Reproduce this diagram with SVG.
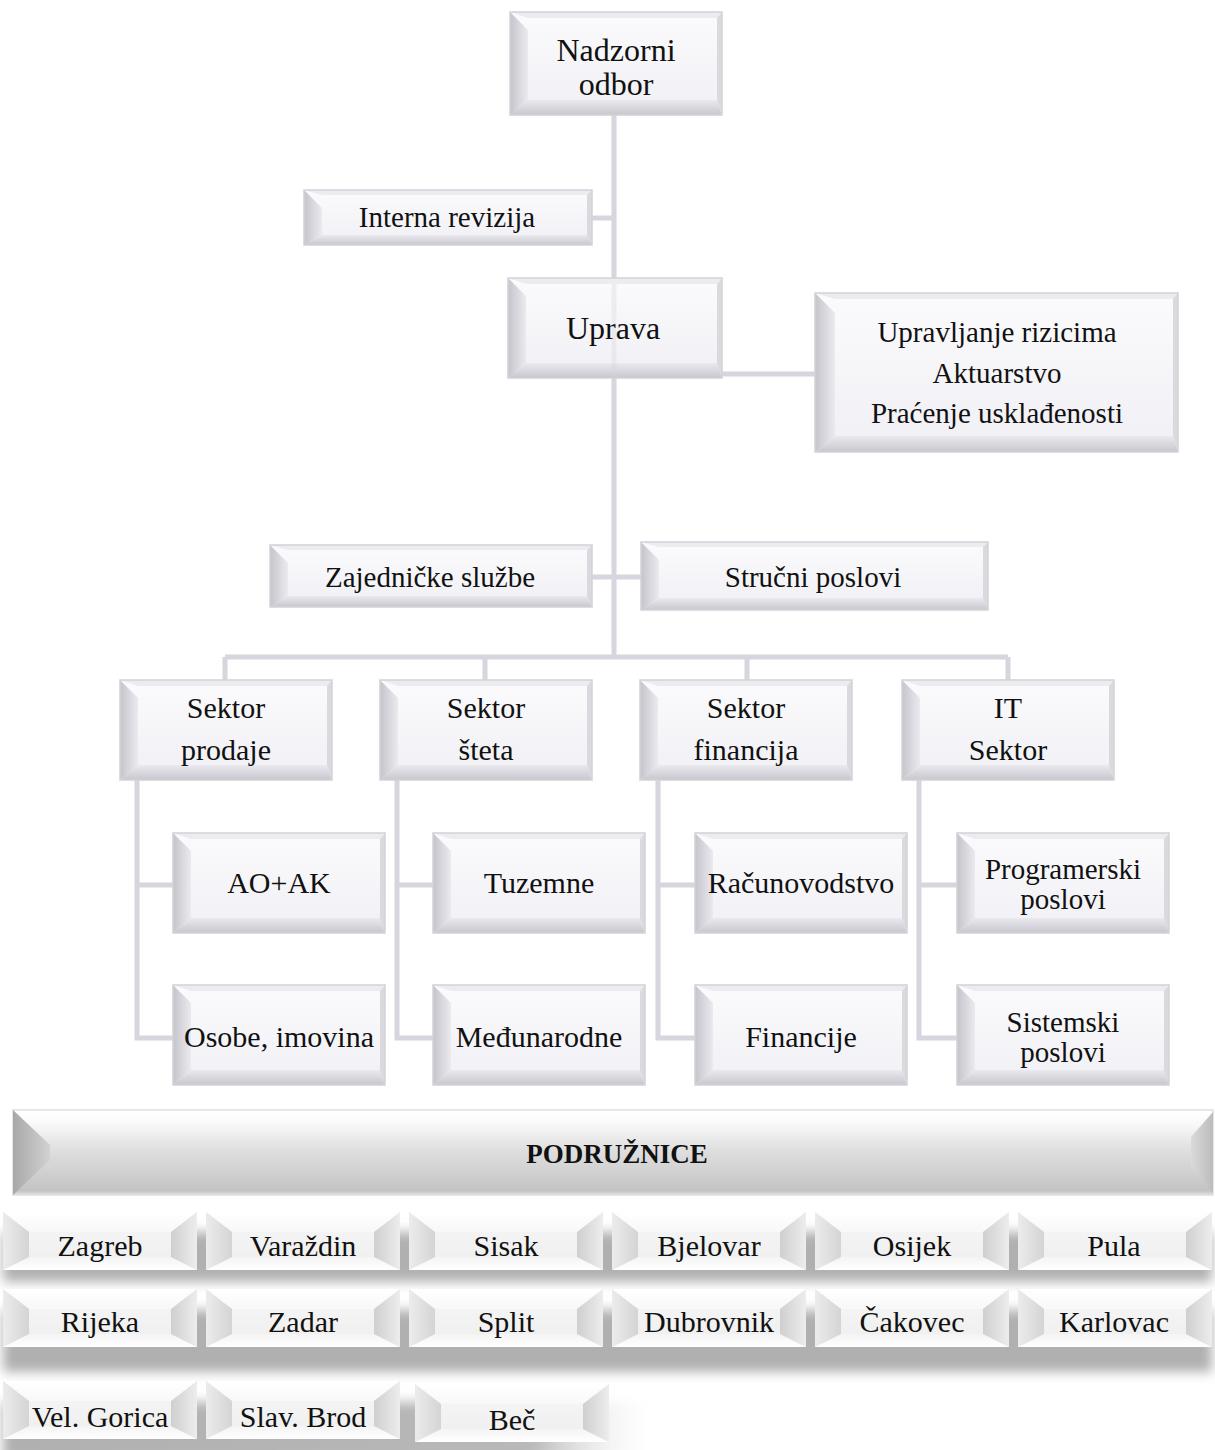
<svg xmlns="http://www.w3.org/2000/svg" xmlns:xlink="http://www.w3.org/1999/xlink" width="1215" height="1450" viewBox="0 0 1215 1450">
<style>
text{font-family:"Liberation Serif","Times New Roman",serif;fill:#111;text-anchor:middle}
.t33{font-size:32px}.t32{font-size:32px}.t29{font-size:29px}.t30{font-size:30px}
.bold{font-weight:bold;font-size:27px}
.nf{fill:url(#gF)}.ol{fill:none;stroke:#d2d2d8;stroke-width:1.5}
.tf{fill:#ebebf0}.lf{fill:url(#gL)}.bf{fill:url(#gB)}.rf{fill:#dadade}
.cc{fill:url(#cC)}.ct{fill:url(#cT)}.cb{fill:url(#cBt)}.cl{fill:url(#cL)}.cr{fill:url(#cR)}
.sh{fill:#b0b0b0;filter:url(#blur)}
</style>
<defs>
<linearGradient id="gF" x1="0" y1="0" x2="0" y2="1"><stop offset="0" stop-color="#fbfbfd"/><stop offset="1" stop-color="#f0f0f5"/></linearGradient>
<linearGradient id="gL" x1="0" y1="0" x2="1" y2="0"><stop offset="0" stop-color="#c4c4cb"/><stop offset="1" stop-color="#eaeaef"/></linearGradient>
<linearGradient id="gB" x1="0" y1="0" x2="0" y2="1"><stop offset="0" stop-color="#e9e9ee"/><stop offset="1" stop-color="#c7c7ce"/></linearGradient>
<linearGradient id="cC" x1="0" y1="0" x2="0" y2="1"><stop offset="0" stop-color="#f7f7f7"/><stop offset="1" stop-color="#eeeeee"/></linearGradient>
<linearGradient id="cT" x1="0" y1="0" x2="0" y2="1"><stop offset="0" stop-color="#ffffff"/><stop offset="1" stop-color="#f8f8f8"/></linearGradient>
<linearGradient id="cBt" x1="0" y1="0" x2="0" y2="1"><stop offset="0" stop-color="#f4f4f4"/><stop offset="1" stop-color="#ffffff"/></linearGradient>
<linearGradient id="cL" x1="0" y1="0" x2="1" y2="0"><stop offset="0" stop-color="#ececec"/><stop offset="1" stop-color="#d4d4d4"/></linearGradient>
<linearGradient id="cR" x1="0" y1="0" x2="1" y2="0"><stop offset="0" stop-color="#cfcfcf"/><stop offset="1" stop-color="#ededed"/></linearGradient>
<linearGradient id="barG" x1="0" y1="0" x2="0" y2="1"><stop offset="0" stop-color="#ffffff"/><stop offset="0.15" stop-color="#fafafa"/><stop offset="0.45" stop-color="#e0e0e0"/><stop offset="0.85" stop-color="#cacaca"/><stop offset="0.95" stop-color="#c3c3c3"/><stop offset="1" stop-color="#e2e2e2"/></linearGradient>
<linearGradient id="barL" x1="0" y1="0" x2="1" y2="0"><stop offset="0" stop-color="#a8a8a8"/><stop offset="1" stop-color="#d2d2d2"/></linearGradient>
<linearGradient id="barR" x1="0" y1="0" x2="1" y2="0"><stop offset="0" stop-color="#dadada"/><stop offset="1" stop-color="#bcbcbc"/></linearGradient>
<linearGradient id="fadeR" x1="0" y1="0" x2="1" y2="0"><stop offset="0" stop-color="#b0b0b0"/><stop offset="0.8" stop-color="#b8b8b8"/><stop offset="1" stop-color="#ffffff" stop-opacity="0"/></linearGradient>
<filter id="blur" x="-5%" y="-60%" width="110%" height="220%"><feGaussianBlur stdDeviation="6"/></filter>
<g id="b212">
<rect width="212" height="100" class="nf"/>
<polygon class="tf" points="0,0 212,0 207,6 18,6"/>
<polygon class="lf" points="0,0 18,18 18,85 0,100"/>
<polygon class="bf" points="0,100 18,85 207,85 212,100"/>
<polygon class="rf" points="212,0 212,100 207,85 207,6"/>
<rect width="212" height="100" class="ol"/>
</g>
<g id="cbtn">
<rect width="194" height="58" class="cc"/>
<polygon class="ct" points="0,0 194,0 168,20 26,20"/>
<polygon class="cb" points="0,58 26,45 168,45 194,58"/>
<polygon class="cl" points="0,0 26,20 26,45 0,58"/>
<polygon class="cr" points="194,0 194,58 168,45 168,20"/>
</g>
</defs>
<rect width="1215" height="1450" fill="#ffffff"/>

<g id="connectors" fill="none" stroke="#d6d6de" stroke-width="5">
<path d="M614,115 V657"/>
<path d="M592,218 H614"/>
<path d="M722,374 H815"/>
<path d="M592,577 H641"/>
<path d="M225,657 H1008"/>
<path d="M225,657 V680 M485,657 V680 M747,657 V680 M1008,657 V680"/>
<path d="M137,780 V1038 H173 M137,885 H173"/>
<path d="M397,780 V1038 H433 M397,885 H433"/>
<path d="M658,780 V1038 H695 M658,885 H695"/>
<path d="M919,780 V1038 H957 M919,885 H957"/>
</g>

<g id="n-nadzorni">
<rect x="510" y="12" width="212" height="103" class="nf"/>
<polygon class="tf" points="510,12 722,12 717,18 528,18"/>
<polygon class="lf" points="510,12 528,30 528,100 510,115"/>
<polygon class="bf" points="510,115 528,100 717,100 722,115"/>
<polygon class="rf" points="722,12 722,115 717,100 717,18"/>
<rect x="510" y="12" width="212" height="103" class="ol"/>
<text x="616" y="61" class="t33">Nadzorni</text>
<text x="616" y="95" class="t33">odbor</text>
</g>

<g id="n-interna">
<rect x="304" y="190" width="288" height="55" class="nf"/>
<polygon class="tf" points="304,190 592,190 587,195 322,195"/>
<polygon class="lf" points="304,190 322,208 322,235 304,245"/>
<polygon class="bf" points="304,245 322,235 587,235 592,245"/>
<polygon class="rf" points="592,190 592,245 587,235 587,195"/>
<rect x="304" y="190" width="288" height="55" class="ol"/>
<text x="447" y="227" class="t29">Interna revizija</text>
</g>

<g id="n-uprava">
<rect x="508" y="278" width="214" height="100" class="nf"/>
<polygon class="tf" points="508,278 722,278 717,284 526,284"/>
<polygon class="lf" points="508,278 526,296 526,363 508,378"/>
<polygon class="bf" points="508,378 526,363 717,363 722,378"/>
<polygon class="rf" points="722,278 722,378 717,363 717,284"/>
<rect x="508" y="278" width="214" height="100" class="ol"/>
<line x1="614" y1="284" x2="614" y2="376" stroke="#d6d6de" stroke-width="5" opacity="0.35"/>
<text x="613" y="339" class="t32">Uprava</text>
</g>

<g id="n-rizici">
<rect x="815" y="293" width="363" height="159" class="nf"/>
<polygon class="tf" points="815,293 1178,293 1173,299 835,299"/>
<polygon class="lf" points="815,293 835,313 835,436 815,452"/>
<polygon class="bf" points="815,452 835,436 1173,436 1178,452"/>
<polygon class="rf" points="1178,293 1178,452 1173,436 1173,299"/>
<rect x="815" y="293" width="363" height="159" class="ol"/>
<text x="997" y="342" class="t29">Upravljanje rizicima</text>
<text x="997" y="383" class="t29">Aktuarstvo</text>
<text x="997" y="423" class="t29">Praćenje usklađenosti</text>
</g>

<g id="n-zajednicke">
<rect x="270" y="545" width="322" height="62" class="nf"/>
<polygon class="tf" points="270,545 592,545 587,550 288,550"/>
<polygon class="lf" points="270,545 288,563 288,596 270,607"/>
<polygon class="bf" points="270,607 288,596 587,596 592,607"/>
<polygon class="rf" points="592,545 592,607 587,596 587,550"/>
<rect x="270" y="545" width="322" height="62" class="ol"/>
<text x="430" y="587" class="t29">Zajedničke službe</text>
</g>

<g id="n-strucni">
<rect x="641" y="542" width="347" height="68" class="nf"/>
<polygon class="tf" points="641,542 988,542 983,547 659,547"/>
<polygon class="lf" points="641,542 659,560 659,598 641,610"/>
<polygon class="bf" points="641,610 659,598 983,598 988,610"/>
<polygon class="rf" points="988,542 988,610 983,598 983,547"/>
<rect x="641" y="542" width="347" height="68" class="ol"/>
<text x="813" y="587" class="t29">Stručni poslovi</text>
</g>

<g id="n-prodaja"><use xlink:href="#b212" x="120" y="680"/><text x="226" y="718" class="t30">Sektor</text><text x="226" y="760" class="t30">prodaje</text></g>
<g id="n-steta"><use xlink:href="#b212" x="380" y="680"/><text x="486" y="718" class="t30">Sektor</text><text x="486" y="760" class="t30">šteta</text></g>
<g id="n-financija"><use xlink:href="#b212" x="640" y="680"/><text x="746" y="718" class="t30">Sektor</text><text x="746" y="760" class="t30">financija</text></g>
<g id="n-it"><use xlink:href="#b212" x="902" y="680"/><text x="1008" y="718" class="t30">IT</text><text x="1008" y="760" class="t30">Sektor</text></g>

<g id="n-aoak"><use xlink:href="#b212" x="173" y="833"/><text x="279" y="893" class="t30">AO+AK</text></g>
<g id="n-osobe"><use xlink:href="#b212" x="173" y="985"/><text x="279" y="1047" class="t30">Osobe, imovina</text></g>
<g id="n-tuzemne"><use xlink:href="#b212" x="433" y="833"/><text x="539" y="893" class="t30">Tuzemne</text></g>
<g id="n-medjunarodne"><use xlink:href="#b212" x="433" y="985"/><text x="539" y="1047" class="t30">Međunarodne</text></g>
<g id="n-racunovodstvo"><use xlink:href="#b212" x="695" y="833"/><text x="801" y="893" class="t30">Računovodstvo</text></g>
<g id="n-financije"><use xlink:href="#b212" x="695" y="985"/><text x="801" y="1047" class="t30">Financije</text></g>
<g id="n-programerski"><use xlink:href="#b212" x="957" y="833"/><text x="1063" y="879" class="t29">Programerski</text><text x="1063" y="909" class="t29">poslovi</text></g>
<g id="n-sistemski"><use xlink:href="#b212" x="957" y="985"/><text x="1063" y="1032" class="t29">Sistemski</text><text x="1063" y="1062" class="t29">poslovi</text></g>

<g id="n-podruznice">
<rect x="13" y="1110" width="1200" height="85" fill="url(#barG)" stroke="#dedede" stroke-width="1.5"/>
<polygon points="13,1110 50,1145 50,1160 13,1195" fill="url(#barL)"/>
<polygon points="1213,1112 1191,1137 1191,1167 1213,1193" fill="url(#barR)"/>
<text x="617" y="1163" class="bold">PODRUŽNICE</text>
</g>

<g id="shadows">
<rect x="3" y="1232" width="1209" height="50" class="sh"/>
<rect x="3" y="1310" width="1209" height="62" class="sh"/>
<rect x="3" y="1402" width="660" height="60" fill="url(#fadeR)" filter="url(#blur)"/>
</g>

<g id="c-zagreb"><use xlink:href="#cbtn" x="3" y="1212"/><text x="100" y="1256" class="t30">Zagreb</text></g>
<g id="c-varazdin"><use xlink:href="#cbtn" x="206" y="1212"/><text x="303" y="1256" class="t30">Varaždin</text></g>
<g id="c-sisak"><use xlink:href="#cbtn" x="409" y="1212"/><text x="506" y="1256" class="t30">Sisak</text></g>
<g id="c-bjelovar"><use xlink:href="#cbtn" x="612" y="1212"/><text x="709" y="1256" class="t30">Bjelovar</text></g>
<g id="c-osijek"><use xlink:href="#cbtn" x="815" y="1212"/><text x="912" y="1256" class="t30">Osijek</text></g>
<g id="c-pula"><use xlink:href="#cbtn" x="1018" y="1212"/><text x="1114" y="1256" class="t30">Pula</text></g>

<g id="c-rijeka"><use xlink:href="#cbtn" x="3" y="1289"/><text x="100" y="1332" class="t30">Rijeka</text></g>
<g id="c-zadar"><use xlink:href="#cbtn" x="206" y="1289"/><text x="303" y="1332" class="t30">Zadar</text></g>
<g id="c-split"><use xlink:href="#cbtn" x="409" y="1289"/><text x="506" y="1332" class="t30">Split</text></g>
<g id="c-dubrovnik"><use xlink:href="#cbtn" x="612" y="1289"/><text x="709" y="1332" class="t30">Dubrovnik</text></g>
<g id="c-cakovec"><use xlink:href="#cbtn" x="815" y="1289"/><text x="912" y="1332" class="t30">Čakovec</text></g>
<g id="c-karlovac"><use xlink:href="#cbtn" x="1018" y="1289"/><text x="1114" y="1332" class="t30">Karlovac</text></g>

<g id="c-velgorica"><use xlink:href="#cbtn" x="3" y="1381"/><text x="100" y="1427" class="t30">Vel. Gorica</text></g>
<g id="c-slavbrod"><use xlink:href="#cbtn" x="206" y="1381"/><text x="303" y="1427" class="t30">Slav. Brod</text></g>
<g id="c-bec"><use xlink:href="#cbtn" x="415" y="1384"/><text x="512" y="1430" class="t30">Beč</text></g>
</svg>
